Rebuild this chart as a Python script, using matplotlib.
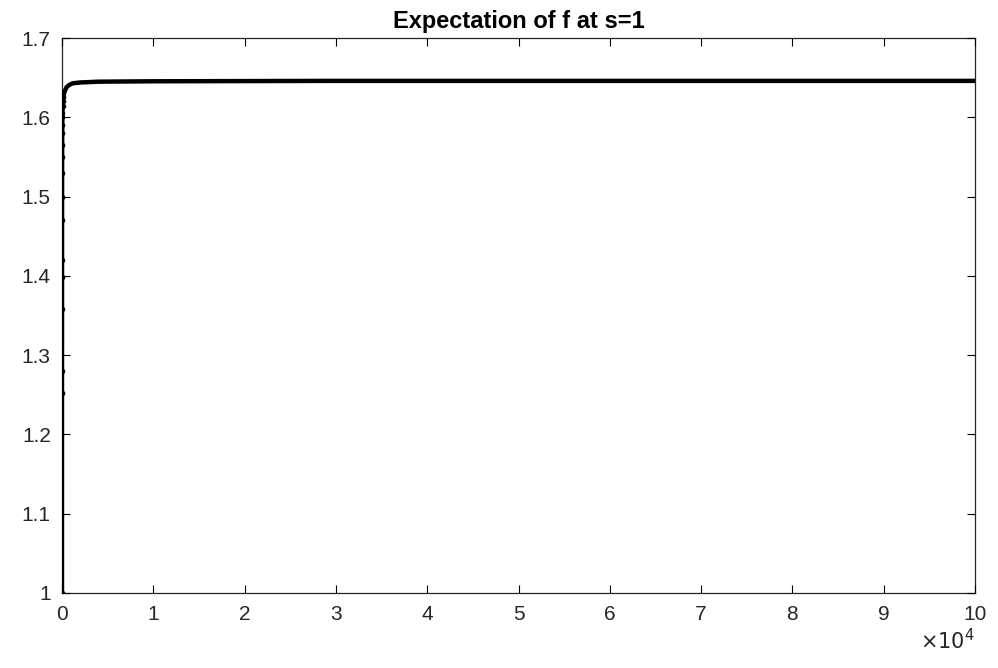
import matplotlib.pyplot as plt
from matplotlib.ticker import FuncFormatter

plt.rcParams['font.family'] = ['Liberation Sans', 'DejaVu Sans']

# iteration index and running expectation
n_iter = [1, 2, 3, 4, 5, 6, 8, 10, 13, 16, 20, 25, 30, 40, 50, 70, 100, 150,
          200, 300, 500, 800, 1200, 2000, 4000, 10000, 30000, 60000, 100000]
expect_f = [1.000, 1.252, 1.280, 1.358, 1.398, 1.420, 1.470, 1.500, 1.530,
            1.550, 1.565, 1.580, 1.590, 1.600, 1.606, 1.614, 1.620, 1.626,
            1.629, 1.633, 1.638, 1.641, 1.643, 1.644, 1.645, 1.6455, 1.646,
            1.646, 1.646]

x_ticks = [0, 10000, 20000, 30000, 40000, 50000, 60000, 70000, 80000, 90000, 100000]
y_ticks = [1.0, 1.1, 1.2, 1.3, 1.4, 1.5, 1.6, 1.7]

fig = plt.figure(figsize=(9.98, 6.68), dpi=100)
ax = fig.add_axes([0.0621, 0.1123, 0.9149, 0.8307])

# dots only show where the samples are spread out (the steep start)
ax.plot(n_iter, expect_f, color='black', linewidth=3.2, marker='.',
        markersize=6, markevery=slice(0, 18), solid_capstyle='round')

ax.set_xlim(0, 100000)
ax.set_ylim(1.0, 1.7)
ax.set_xticks(x_ticks)
ax.set_yticks(y_ticks)
ax.set_yticklabels(['1', '1.1', '1.2', '1.3', '1.4', '1.5', '1.6', '1.7'])
ax.xaxis.set_major_formatter(FuncFormatter(lambda v, p: f'{v / 1e4:g}'))

ax.tick_params(direction='in', length=6, width=0.8, top=True, right=True,
               labelsize=15, labelcolor='#262626')
ax.tick_params(axis='x', pad=9)
ax.tick_params(axis='y', pad=8)
for sp in ax.spines.values():
    sp.set_color('#262626')
    sp.set_linewidth(0.9)
    sp.set_zorder(1)

fig.text(0.977, 0.022, r'$\times 10^{4}$', ha='right', va='bottom',
         fontsize=15, color='#262626')

ax.set_title('Expectation of f at s=1', fontsize=17, fontweight='bold', pad=7)

fig.savefig('out.png', dpi=100)
